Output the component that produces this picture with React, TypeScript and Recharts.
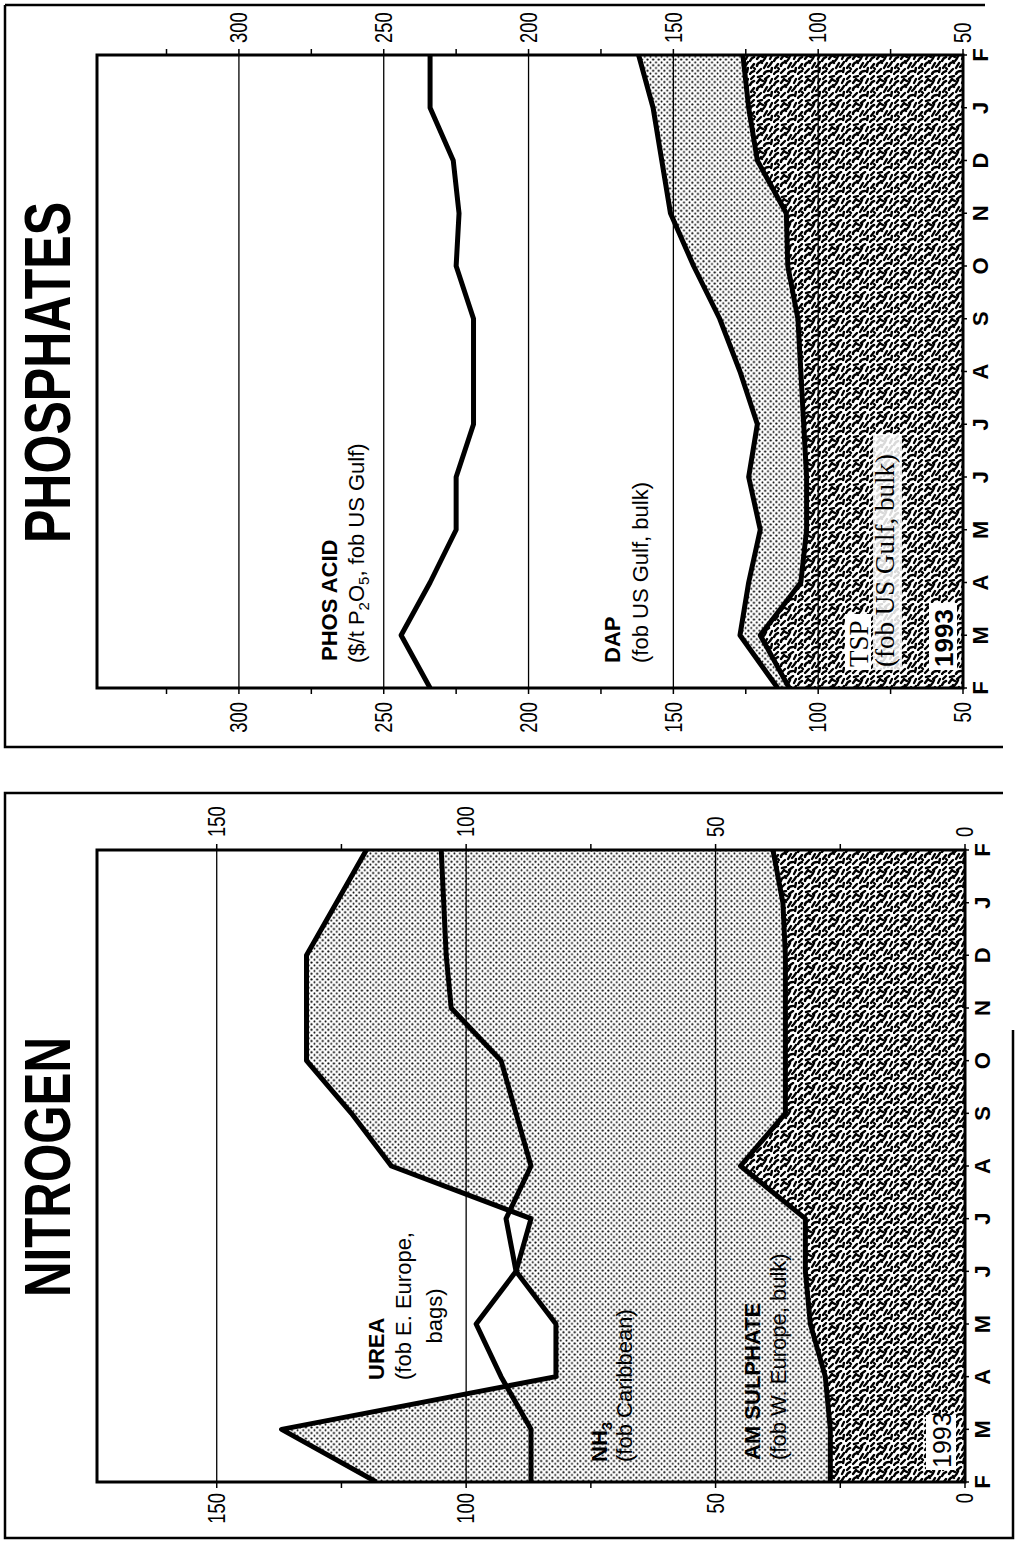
import React from 'react';
import { ComposedChart, Area, Line, XAxis, YAxis, ReferenceLine, ReferenceArea } from 'recharts';

// Feb 1993 -> Feb 1994, $/t
const months = ['F', 'M', 'A', 'M', 'J', 'J', 'A', 'S', 'O', 'N', 'D', 'J', 'F'];
const monthIdx = months.map((_, i) => i);

// NITROGEN
const urea = [118, 137, 82, 82, 90, 87, 115, 123, 132, 132, 132, 126, 120];
const nh3 = [87, 87, 93, 98, 90, 92, 87, 90, 93, 103, 104, 104.5, 105];
const amSulphate = [27, 27, 28, 31, 32, 32, 45, 36, 36, 36, 36, 36.5, 38.5];
const nitrogenDomain = [0, 174];
const nitrogenTicks = [0, 25, 50, 75, 100, 125, 150];
const nitrogenGrid = [50, 100, 150];

// PHOSPHATES
const phosAcid = [234, 244, 234, 225, 225, 219, 219, 219, 225, 224, 226, 234, 234];
const dap = [114, 127, 124, 120, 124, 121, 127, 134, 143, 151, 154, 157, 162];
const tsp = [110, 120, 106, 104, 104, 105, 106, 107, 110.5, 111, 121, 124, 126];
const phosDomain = [50, 349];
const phosTicks = [50, 75, 100, 125, 150, 175, 200, 225, 250, 275, 300, 325];
const phosGrid = [100, 150, 200, 250, 300];

const nitrogenData = months.map((m, i) => ({ i, m, urea: urea[i], nh3: nh3[i], am: amSulphate[i] }));
const phosData = months.map((m, i) => ({ i, m, acid: phosAcid[i], dap: dap[i], tsp: tsp[i] }));

const SANS = "'Liberation Sans', Arial, Helvetica, sans-serif";
const SERIF = "'Liberation Serif', 'Times New Roman', serif";

const ValueTick = (props: any) => {
    const { x, y, payload, textAnchor } = props;
    if (payload.value % 50 !== 0) return <g />;
    return (
        <text
            transform={`translate(${x} ${y}) scale(0.8 1)`}
            dy="0.36em"
            textAnchor={textAnchor}
            fontSize={23}
            fontFamily={SANS}
            fill="#000"
        >
            {payload.value}
        </text>
    );
};

const MonthTick = (props: any) => {
    const { x, y, payload } = props;
    return (
        <text x={x} y={y} dy="0.74em" textAnchor="middle" fontSize={22} fontWeight="bold" fontFamily={SANS} fill="#000">
            {months[payload.value]}
        </text>
    );
};

interface PriceChartProps {
    data: any[];
    domain: number[];
    ticks: number[];
    grid: number[];
    areas: { key: string; fill: string }[];
    lines: string[];
    width: number;
    height: number;
    leftW: number;
    rightW: number;
    bottomH: number;
    leftMargin: number;
    rightMargin: number;
}

const PriceChart = ({ data, domain, ticks, grid, areas, lines, width, height, leftW, rightW, bottomH, leftMargin, rightMargin }: PriceChartProps) => (
    <ComposedChart width={width} height={height} data={data} margin={{ top: 92, right: 0, bottom: 0, left: 0 }}>
        <XAxis
            dataKey="i"
            type="number"
            domain={[0, 12]}
            ticks={monthIdx}
            interval={0}
            height={bottomH}
            tickSize={4}
            tickMargin={5}
            axisLine={false}
            tickLine={{ stroke: '#000', strokeWidth: 1.5 }}
            tick={(p: any) => <MonthTick {...p} />}
            allowDataOverflow
        />
        <YAxis
            yAxisId="l"
            orientation="left"
            type="number"
            domain={domain}
            ticks={ticks}
            interval={0}
            width={leftW}
            tickSize={6}
            tickMargin={leftMargin}
            axisLine={false}
            tickLine={{ stroke: '#000', strokeWidth: 1.5 }}
            tick={(p: any) => <ValueTick {...p} />}
            allowDataOverflow
        />
        <YAxis
            yAxisId="r"
            orientation="right"
            type="number"
            domain={domain}
            ticks={ticks}
            interval={0}
            width={rightW}
            tickSize={6}
            tickMargin={rightMargin}
            axisLine={false}
            tickLine={{ stroke: '#000', strokeWidth: 1.5 }}
            tick={(p: any) => <ValueTick {...p} />}
            allowDataOverflow
        />
        {areas.map((a) => (
            <Area
                key={a.key}
                yAxisId="l"
                type="linear"
                dataKey={a.key}
                fill={a.fill}
                fillOpacity={1}
                stroke="none"
                baseValue={domain[0]}
                dot={false}
                activeDot={false}
                isAnimationActive={false}
            />
        ))}
        {grid.map((g) => (
            <ReferenceLine key={g} yAxisId="l" y={g} stroke="#000" strokeWidth={1.3} />
        ))}
        {lines.map((k) => (
            <Line
                key={k}
                yAxisId="l"
                type="linear"
                dataKey={k}
                stroke="#000"
                strokeWidth={5}
                strokeLinejoin="round"
                dot={false}
                activeDot={false}
                isAnimationActive={false}
            />
        ))}
        <ReferenceArea yAxisId="l" x1={0} x2={12} y1={domain[0]} y2={domain[1]} fill="none" stroke="#000" strokeWidth={3} />
    </ComposedChart>
);

const Patterns = () => (
    <svg width={0} height={0} style={{ position: 'absolute' }}>
        <defs>
            <pattern id="dots" width={5.6} height={5.6} patternUnits="userSpaceOnUse">
                <circle cx={1.4} cy={1.4} r={1.05} fill="#000" />
                <circle cx={4.2} cy={4.2} r={1.05} fill="#000" />
            </pattern>
            <pattern id="worms" width={24} height={24} patternUnits="userSpaceOnUse">
                <rect width={24} height={24} fill="#fff" />
                <g stroke="#000" strokeWidth={2.4} strokeLinecap="round" fill="none">
                    <path d="M1 1 q2 1 3 4" />
                    <path d="M7 2 l4 3" />
                    <path d="M14 1 q3 1 4 4" />
                    <path d="M20 2 l3 3" />
                    <path d="M2 8 l4 4" />
                    <path d="M9 8 q3 0 4 4" />
                    <path d="M16 8 l4 3" />
                    <path d="M22 9 l1 4" />
                    <path d="M1 15 q3 1 3 5" />
                    <path d="M7 15 l5 3" />
                    <path d="M14 14 q2 2 5 3" />
                    <path d="M20 16 l3 4" />
                    <path d="M3 22 l4 1" />
                    <path d="M10 21 l3 2" />
                    <path d="M16 21 l4 2" />
                    <path d="M6 6 l1 -1" />
                    <path d="M12 13 l2 -1" />
                    <path d="M19 12 l-1 2" />
                    <path d="M8 19 l1 1" />
                </g>
            </pattern>
        </defs>
    </svg>
);

const Annotations = () => (
    <svg width={1543} height={1019} style={{ position: 'absolute', left: 0, top: 0, pointerEvents: 'none' }}>
        <g stroke="#000" strokeWidth={2.5} fill="none">
            <path d="M750 1003 V5 H5 V1013 H513" />
            <path d="M1538 5 V985" />
            <path d="M1538 5 H796 V1003" />
        </g>
        <g fontFamily={SANS} fill="#000">
            <text x={246} y={70} fontSize={64} fontWeight="bold" textLength={260} lengthAdjust="spacingAndGlyphs">NITROGEN</text>
            <text x={1000} y={70} fontSize={64} fontWeight="bold" textLength={341} lengthAdjust="spacingAndGlyphs">PHOSPHATES</text>

            <text x={163} y={384} fontSize={22} fontWeight="bold">UREA</text>
            <text x={163} y={411} fontSize={22}>(fob E. Europe,</text>
            <text x={227} y={442} fontSize={22} textAnchor="middle">bags)</text>

            <text x={81} y={607} fontSize={22} fontWeight="bold">NH<tspan fontSize={15} dy={5}>3</tspan></text>
            <text x={81} y={632} fontSize={22}>(fob Caribbean)</text>

            <text x={83} y={760} fontSize={22} fontWeight="bold">AM SULPHATE</text>
            <text x={83} y={786} fontSize={22}>(fob W. Europe, bulk)</text>

            <rect x={73} y={926} width={55} height={30} fill="#fff" />
            <text x={75} y={951} fontSize={25}>1993</text>

            <text x={882} y={337} fontSize={22} fontWeight="bold">PHOS ACID</text>
            <text x={880} y={364} fontSize={22}>
                ($/t P<tspan fontSize={15} dy={5}>2</tspan>
                <tspan dy={-5}>O</tspan>
                <tspan fontSize={15} dy={5}>5</tspan>
                <tspan dy={-5}>, fob US Gulf)</tspan>
            </text>

            <text x={880} y={620} fontSize={22} fontWeight="bold">DAP</text>
            <text x={880} y={648} fontSize={22}>(fob US Gulf, bulk)</text>

            <rect x={873} y={845} width={56} height={26} fill="#fff" />
            <text x={876} y={868} fontSize={27} fontFamily={SERIF}>TSP</text>
            <rect x={873} y={873} width={236} height={29} fill="#fff" fillOpacity={0.85} />
            <text x={876} y={894} fontSize={27} fontFamily={SERIF}>(fob US Gulf, bulk)</text>
            <rect x={873} y={929} width={67} height={28} fill="#fff" />
            <text x={876} y={953} fontSize={26} fontWeight="bold">1993</text>
        </g>
    </svg>
);

export default function App() {
    return (
        <div style={{ position: 'absolute', left: 0, top: 0, width: 1019, height: 1543, overflow: 'hidden', background: '#fff' }}>
            <Patterns />
            <div
                style={{
                    position: 'absolute',
                    left: 0,
                    top: 0,
                    width: 1543,
                    height: 1019,
                    transformOrigin: '0 0',
                    transform: 'translate(0px, 1543px) rotate(-90deg)',
                }}
            >
                <div style={{ position: 'absolute', left: 5, top: 5 }}>
                    <PriceChart
                        data={nitrogenData}
                        domain={nitrogenDomain}
                        ticks={nitrogenTicks}
                        grid={nitrogenGrid}
                        areas={[
                            { key: 'urea', fill: 'url(#dots)' },
                            { key: 'am', fill: 'url(#worms)' },
                        ]}
                        lines={['urea', 'nh3', 'am']}
                        width={744}
                        height={1007}
                        leftW={56}
                        rightW={56}
                        bottomH={47}
                        leftMargin={5}
                        rightMargin={7}
                    />
                </div>
                <div style={{ position: 'absolute', left: 796, top: 5 }}>
                    <PriceChart
                        data={phosData}
                        domain={phosDomain}
                        ticks={phosTicks}
                        grid={phosGrid}
                        areas={[
                            { key: 'dap', fill: 'url(#dots)' },
                            { key: 'tsp', fill: 'url(#worms)' },
                        ]}
                        lines={['acid', 'dap', 'tsp']}
                        width={741}
                        height={1007}
                        leftW={59}
                        rightW={49}
                        bottomH={49}
                        leftMargin={8}
                        rightMargin={6}
                    />
                </div>
                <Annotations />
            </div>
        </div>
    );
}
